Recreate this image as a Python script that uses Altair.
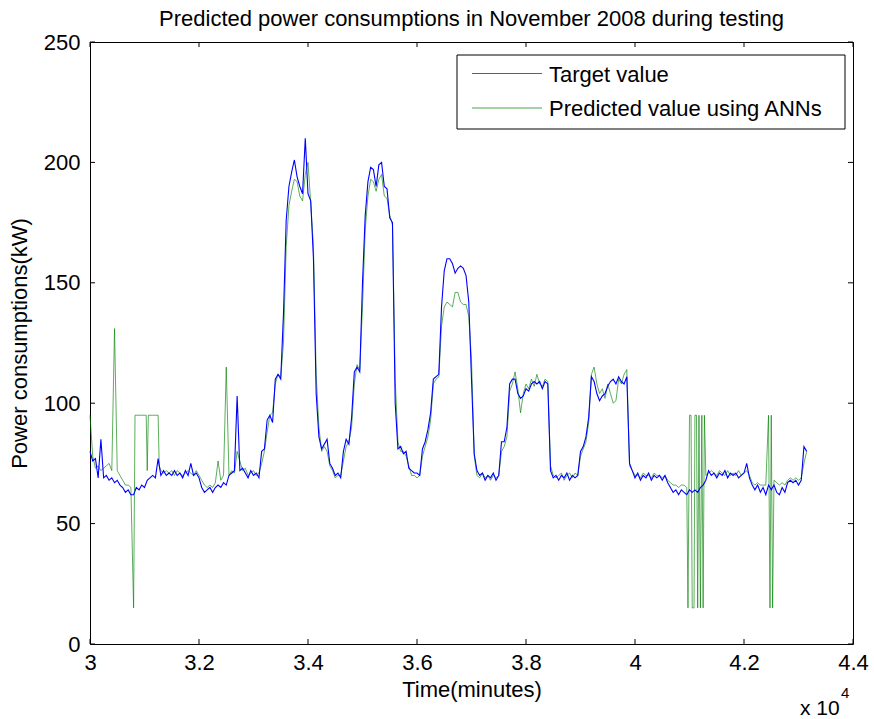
import altair as alt
import pandas as pd

TITLE = "Predicted power consumptions in November 2008 during testing"
X_TITLE = "Time(minutes)"
Y_TITLE = "Power consumptions(kW)"
SERIES = ["Target value", "Predicted value using ANNs"]
COLORS = ["#0000ff", "#008000"]
X_TICKS = [3.0, 3.2, 3.4, 3.6, 3.8, 4.0, 4.2, 4.4]
Y_TICKS = [0, 50, 100, 150, 200, 250]
X_DOMAIN = [3.0, 4.4]
Y_DOMAIN = [0, 250]

# time in units of 10^4 minutes, one sample every 50 minutes
T_START = 3.0
T_STEP = 0.005

target = [
    80, 76, 77, 69, 85, 69, 70, 68, 69, 67,
    68, 66, 65, 63, 64, 62, 62, 65, 64, 66,
    65, 68, 69, 70, 69, 77, 70, 72, 70, 71,
    70, 72, 70, 71, 69, 72, 70, 75, 70, 71,
    69, 65, 63, 64, 65, 63, 65, 66, 65, 67,
    66, 70, 71, 72, 103, 72, 73, 71, 69, 72,
    70, 71, 69, 80, 81, 93, 95, 92, 110, 112,
    110, 137, 176, 190, 196, 201, 194, 190, 187, 210,
    187, 184, 160, 104, 86, 81, 83, 85, 75, 73,
    70, 71, 69, 80, 85, 83, 94, 113, 115, 113,
    150, 178, 192, 198, 197, 190, 199, 200, 190, 189,
    177, 175, 100, 81, 82, 79, 80, 73, 72, 71,
    71, 70, 81, 84, 89, 96, 110, 111, 112, 140,
    155, 160, 160, 158, 154, 156, 157, 156, 153, 142,
    110, 79, 72, 70, 71, 68, 70, 69, 71, 68,
    70, 84, 84, 90, 108, 110, 110, 104, 102, 103,
    106, 105, 108, 109, 108, 109, 106, 109, 108, 72,
    69, 70, 68, 70, 69, 71, 68, 70, 69, 70,
    80, 82, 86, 94, 111, 109, 104, 101, 103, 104,
    107, 109, 110, 108, 111, 109, 108, 111, 75, 72,
    69, 71, 68, 70, 69, 71, 68, 70, 69, 70,
    68, 70, 67, 65, 63, 64, 62, 64, 63, 62,
    64, 63, 64, 63, 65, 66, 68, 72, 70, 71,
    69, 71, 70, 72, 69, 71, 70, 71, 69, 70,
    71, 75, 69, 66, 64, 66, 63, 65, 62, 66,
    64, 66, 63, 62, 65, 63, 67, 68, 67, 68,
    66, 68, 82, 80,
]

predicted = [
    95, 78, 73, 74, 72, 73, 74, 75, 72, 131,
    72, 70, 68, 66, 66, 65, 15, 95, 95, 95,
    95, 72, 95, 95, 95, 95, 72, 71, 72, 71,
    72, 70, 72, 71, 70, 71, 72, 71, 70, 72,
    70, 68, 66, 65, 66, 65, 67, 76, 68, 70,
    115, 70, 72, 71, 80, 76, 72, 73, 70, 71,
    72, 70, 71, 75, 80, 88, 95, 96, 108, 112,
    111, 125, 165, 182, 188, 193, 192, 186, 184, 195,
    200, 183, 165, 112, 90, 80, 82, 80, 74, 72,
    69, 70, 70, 76, 82, 84, 90, 108, 116, 114,
    140, 172, 186, 193, 192, 188, 193, 195, 186, 185,
    178, 174, 110, 84, 80, 80, 78, 74, 70, 70,
    69, 70, 78, 82, 86, 93, 108, 110, 111, 132,
    140, 142, 141, 140, 146, 146, 142, 141, 141, 136,
    118, 78, 70, 69, 71, 69, 70, 68, 70, 69,
    70, 80, 82, 86, 105, 108, 113, 106, 96, 104,
    108, 106, 110, 107, 112, 108, 107, 110, 109, 74,
    70, 69, 70, 71, 68, 70, 71, 69, 71, 70,
    78, 81, 84, 92, 112, 115, 108, 104, 106, 102,
    108, 104, 100, 101, 110, 108, 112, 114, 74, 72,
    70, 70, 69, 71, 70, 70, 69, 71, 70, 70,
    69, 70, 68, 67, 66, 66, 65, 66, 66, 65,
    95, 15, 95, 15, 15, 15, 70, 71, 72, 71,
    70, 72, 71, 70, 72, 70, 71, 70, 72, 70,
    71, 72, 70, 67, 66, 67, 66, 66, 66, 95,
    95, 68, 67, 66, 67, 66, 68, 69, 68, 69,
    68, 69, 75, 80,
]

# extra predicted samples between the regular ones (outlier jumps)
extra_t = [3.0826, 3.1031, 3.1070, 3.1270, 4.0972, 4.1028, 4.1083,
           4.1128, 4.1174, 4.1226, 4.1273, 4.2477, 4.2525]
extra_p = [95, 95, 95, 74, 15, 95, 15, 95, 95, 95, 95, 15, 15]

W, H = 763, 602
FONT = "Liberation Sans"

t = [round(T_START + i * T_STEP, 4) for i in range(len(target))]
df_target = pd.DataFrame({"t": t, "v": target})
df_pred = pd.DataFrame({"t": t + extra_t, "v": predicted + extra_p}).sort_values("t")

x_enc = alt.X(
    "t:Q",
    scale=alt.Scale(domain=X_DOMAIN, nice=False, zero=False),
    axis=alt.Axis(values=X_TICKS, format="~g", title=X_TITLE, grid=False,
                  ticks=False, domain=False, labelFlush=False,
                  labelPadding=8, titlePadding=6),
)
y_enc = alt.Y(
    "v:Q",
    scale=alt.Scale(domain=Y_DOMAIN, nice=False),
    axis=alt.Axis(values=Y_TICKS, title=Y_TITLE, grid=False, ticks=False,
                  domain=False, labelPadding=10, titlePadding=12),
)

pred_line = alt.Chart(df_pred).mark_line(
    color=COLORS[1], strokeWidth=0.8, opacity=0.8, interpolate="linear"
).encode(x=x_enc, y=y_enc, order="t:Q")

target_line = alt.Chart(df_target).mark_line(
    color=COLORS[0], strokeWidth=1.1, interpolate="linear"
).encode(x=x_enc, y=y_enc, order="t:Q")

df_xt = pd.DataFrame({"t": X_TICKS})
df_yt = pd.DataFrame({"v": Y_TICKS})
TL = 5
xt_bottom = alt.Chart(df_xt).mark_rule(color="black", strokeWidth=1).encode(
    x=x_enc, y=alt.value(H), y2=alt.value(H - TL))
xt_top = alt.Chart(df_xt).mark_rule(color="black", strokeWidth=1).encode(
    x=x_enc, y=alt.value(0), y2=alt.value(TL))
yt_left = alt.Chart(df_yt).mark_rule(color="black", strokeWidth=1).encode(
    y=y_enc, x=alt.value(0), x2=alt.value(TL))
yt_right = alt.Chart(df_yt).mark_rule(color="black", strokeWidth=1).encode(
    y=y_enc, x=alt.value(W), x2=alt.value(W - TL))

# legend box (MATLAB style, top right inside the axes)
LX0, LX1, LY0, LY1 = 367, 755, 13, 87
ROW_Y = [31.5, 66]
legend_df = pd.DataFrame({"name": SERIES, "color": COLORS})
legend_box = alt.Chart(legend_df.head(1)).mark_rect(
    fill="white", stroke="black", strokeWidth=1
).encode(x=alt.value(LX0), x2=alt.value(LX1), y=alt.value(LY0), y2=alt.value(LY1))

legend_layers = [legend_box]
for k in range(len(SERIES)):
    row = legend_df.iloc[[k]]
    legend_layers.append(
        alt.Chart(row).mark_rule(color=COLORS[k], strokeWidth=1, opacity=0.7).encode(
            x=alt.value(382), x2=alt.value(452), y=alt.value(ROW_Y[k]))
    )
    legend_layers.append(
        alt.Chart(row).mark_text(align="left", baseline="middle", font=FONT,
                                 fontSize=22, color="black").encode(
            text="name:N", x=alt.value(459), y=alt.value(ROW_Y[k] + 1))
    )

title_df = pd.DataFrame({"s": [TITLE]})
title_text = alt.Chart(title_df).mark_text(
    align="center", baseline="alphabetic", font=FONT, fontSize=22, color="black"
).encode(text="s:N", x=alt.value(W / 2), y=alt.value(-16))

mult_df = pd.DataFrame({"s": ["x 10"], "e": ["4"]})
mult_text = alt.Chart(mult_df).mark_text(
    align="left", baseline="alphabetic", font=FONT, fontSize=21, color="black"
).encode(text="s:N", x=alt.value(710), y=alt.value(673))
exp_text = alt.Chart(mult_df).mark_text(
    align="left", baseline="alphabetic", font=FONT, fontSize=15, color="black"
).encode(text="e:N", x=alt.value(751), y=alt.value(656))

chart = alt.layer(
    pred_line, target_line, xt_bottom, xt_top, yt_left, yt_right,
    *legend_layers, title_text, mult_text, exp_text,
).properties(
    width=W, height=H,
    autosize=alt.AutoSizeParams(type="none"),
    padding={"left": 90, "top": 42, "right": 21, "bottom": 75},
    background="white",
).configure_view(
    stroke="black", strokeWidth=1
).configure_axis(
    labelFont=FONT, labelFontSize=22, labelColor="black",
    titleFont=FONT, titleFontSize=22, titleFontWeight="normal", titleColor="black",
)

chart.save("out.html", embed_options={"renderer": "svg", "actions": False})
